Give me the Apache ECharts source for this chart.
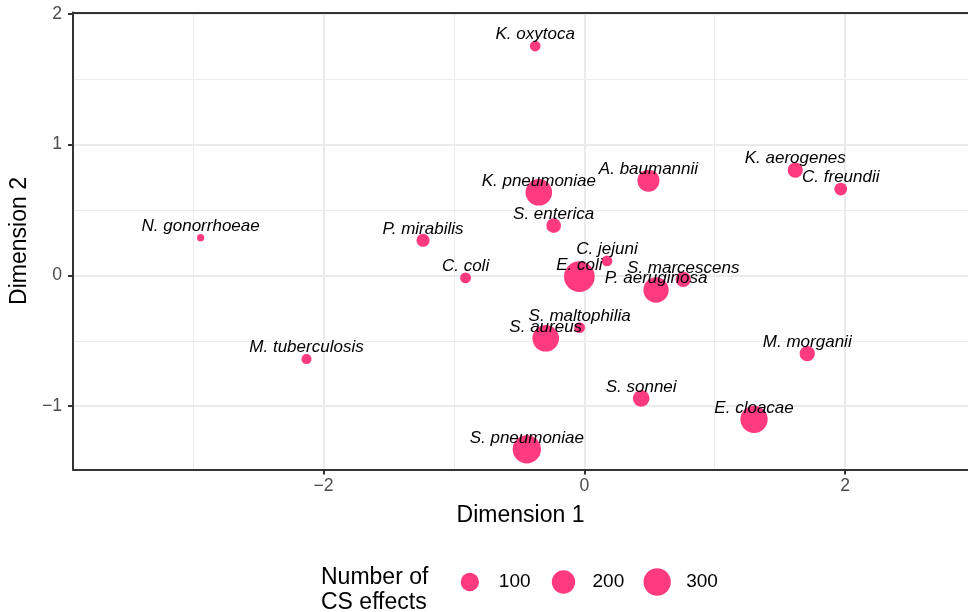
<!DOCTYPE html>
<html>
<head>
<meta charset="utf-8">
<script src="https://cdn.jsdelivr.net/npm/echarts@6/dist/echarts.min.js"></script>
<style>html,body{margin:0;padding:0;background:#fff;}#c{width:968px;height:612px;}</style>
</head>
<body>
<div id="c"></div>
<script>
// ---- data ----
const species = ['K. oxytoca','K. pneumoniae','A. baumannii','S. enterica','P. mirabilis','C. jejuni','C. coli','E. coli','S. marcescens','P. aeruginosa','S. maltophilia','S. aureus','N. gonorrhoeae','M. tuberculosis','K. aerogenes','C. freundii','M. morganii','E. cloacae','S. sonnei','S. pneumoniae'];
const dim1 = [-0.377,-0.349,0.492,-0.235,-1.237,0.174,-0.911,-0.038,0.759,0.550,-0.036,-0.296,-2.943,-2.131,1.618,1.967,1.710,1.302,0.436,-0.441];
const dim2 = [1.753,0.635,0.724,0.380,0.268,0.110,-0.019,-0.010,-0.030,-0.112,-0.400,-0.481,0.288,-0.640,0.805,0.660,-0.599,-1.101,-0.940,-1.330];
const csEffects = [15,280,170,50,33,15,16,400,57,246,15,280,1,11,57,30,57,300,76,329];
const legendValues = [100,200,300];
const xTicks = [-2,0,2];
const yTicks = [-1,0,1,2];
const xMajorGrid = [-2,0,2];
const xMinorGrid = [-3,-1,1];
const yMajorGrid = [-1,0,1,2];
const yMinorGrid = [-0.5,0.5,1.5];

const FONT = '"Liberation Sans", Arial, Helvetica, sans-serif';
const PINK = '#FF3A7F';
const sizeOf = v => 6.0 + 1.229 * Math.sqrt(v);
const fmt = v => (v < 0 ? '\u2212' + Math.abs(v) : String(v));

const points = species.map((s, i) => ({ name: s, value: [dim1[i], dim2[i], csEffects[i]] }));
const legendPts = legendValues.map((v, i) => ({ name: String(v), value: [i, 0.5, v] }));

const gridLines = []
  .concat(xMinorGrid.map(v => ({ xAxis: v, lineStyle: { color: '#EBEBEB', width: 1, type: 'solid' } })))
  .concat(yMinorGrid.map(v => ({ yAxis: v, lineStyle: { color: '#EBEBEB', width: 1, type: 'solid' } })))
  .concat(xMajorGrid.map(v => ({ xAxis: v, lineStyle: { color: '#EBEBEB', width: 2, type: 'solid' } })))
  .concat(yMajorGrid.map(v => ({ yAxis: v, lineStyle: { color: '#EBEBEB', width: 2, type: 'solid' } })));

const XMIN = -3.922, XMAX = 2.943, YMIN = -1.4843, YMAX = 2.0096;
const axisLine = { show: true, onZero: false, lineStyle: { color: '#333333', width: 2 } };

const chart = echarts.init(document.getElementById('c'), null, { renderer: 'canvas' });
chart.setOption({
  animation: false,
  backgroundColor: '#ffffff',
  title: {
    text: 'Number of\nCS effects',
    left: 316, top: 560,
    textStyle: { fontFamily: FONT, fontSize: 23, fontWeight: 'normal', color: '#000', lineHeight: 25 }
  },
  grid: [
    { left: 71, right: -1, top: 12.5, bottom: 142.5, containLabel: false, show: false },
    { left: 423, width: 281, top: 570, height: 24, show: false }
  ],
  xAxis: [
    {
      type: 'value', gridIndex: 0, position: 'bottom', min: XMIN, max: XMAX, z: 5,
      axisLine: axisLine,
      axisTick: { show: true, length: 5, customValues: xTicks, lineStyle: { color: '#333333', width: 2 } },
      axisLabel: { customValues: xTicks, formatter: fmt, color: '#4D4D4D', fontFamily: FONT, fontSize: 17.6, margin: 8 },
      splitLine: { show: false },
      name: 'Dimension 1', nameLocation: 'middle', nameGap: 34.5,
      nameTextStyle: { fontFamily: FONT, fontSize: 23, color: '#000' }
    },
    {
      type: 'value', gridIndex: 0, position: 'top', min: XMIN, max: XMAX, z: 5,
      axisLine: axisLine, axisTick: { show: false }, axisLabel: { show: false }, splitLine: { show: false }
    },
    {
      type: 'category', gridIndex: 1, data: legendValues.map(String), show: false
    }
  ],
  yAxis: [
    {
      type: 'value', gridIndex: 0, position: 'left', min: YMIN, max: YMAX, z: 5,
      axisLine: axisLine,
      axisTick: { show: true, length: 5, customValues: yTicks, lineStyle: { color: '#333333', width: 2 } },
      axisLabel: { customValues: yTicks, formatter: fmt, color: '#4D4D4D', fontFamily: FONT, fontSize: 17.6, margin: 11 },
      splitLine: { show: false },
      name: 'Dimension 2', nameLocation: 'middle', nameGap: 42, nameRotate: 90,
      nameTextStyle: { fontFamily: FONT, fontSize: 23, color: '#000' }
    },
    { type: 'value', gridIndex: 1, min: 0, max: 1, show: false }
  ],
  series: [
    {
      type: 'scatter', xAxisIndex: 0, yAxisIndex: 0, data: [], silent: true, z: 0,
      markLine: { z: 0, silent: true, animation: false, symbol: ['none', 'none'], label: { show: false }, data: gridLines }
    },
    {
      type: 'scatter', xAxisIndex: 0, yAxisIndex: 0, z: 3, silent: true,
      data: points,
      symbolSize: v => sizeOf(v[2]),
      itemStyle: { color: PINK, opacity: 1 },
      label: {
        show: true, position: 'inside', offset: [0, -11.5], formatter: '{b}',
        fontFamily: FONT, fontSize: 17, fontStyle: 'italic', color: '#000'
      },
      emphasis: { disabled: true }
    },
    {
      type: 'scatter', xAxisIndex: 2, yAxisIndex: 1, z: 3, silent: true,
      data: legendPts,
      symbolSize: v => sizeOf(v[2]),
      itemStyle: { color: PINK, opacity: 1 },
      label: {
        show: true, position: 'inside', align: 'left', offset: [29, 0], formatter: '{b}',
        fontFamily: FONT, fontSize: 19, color: '#000'
      },
      emphasis: { disabled: true }
    }
  ]
});
</script>
</body>
</html>
